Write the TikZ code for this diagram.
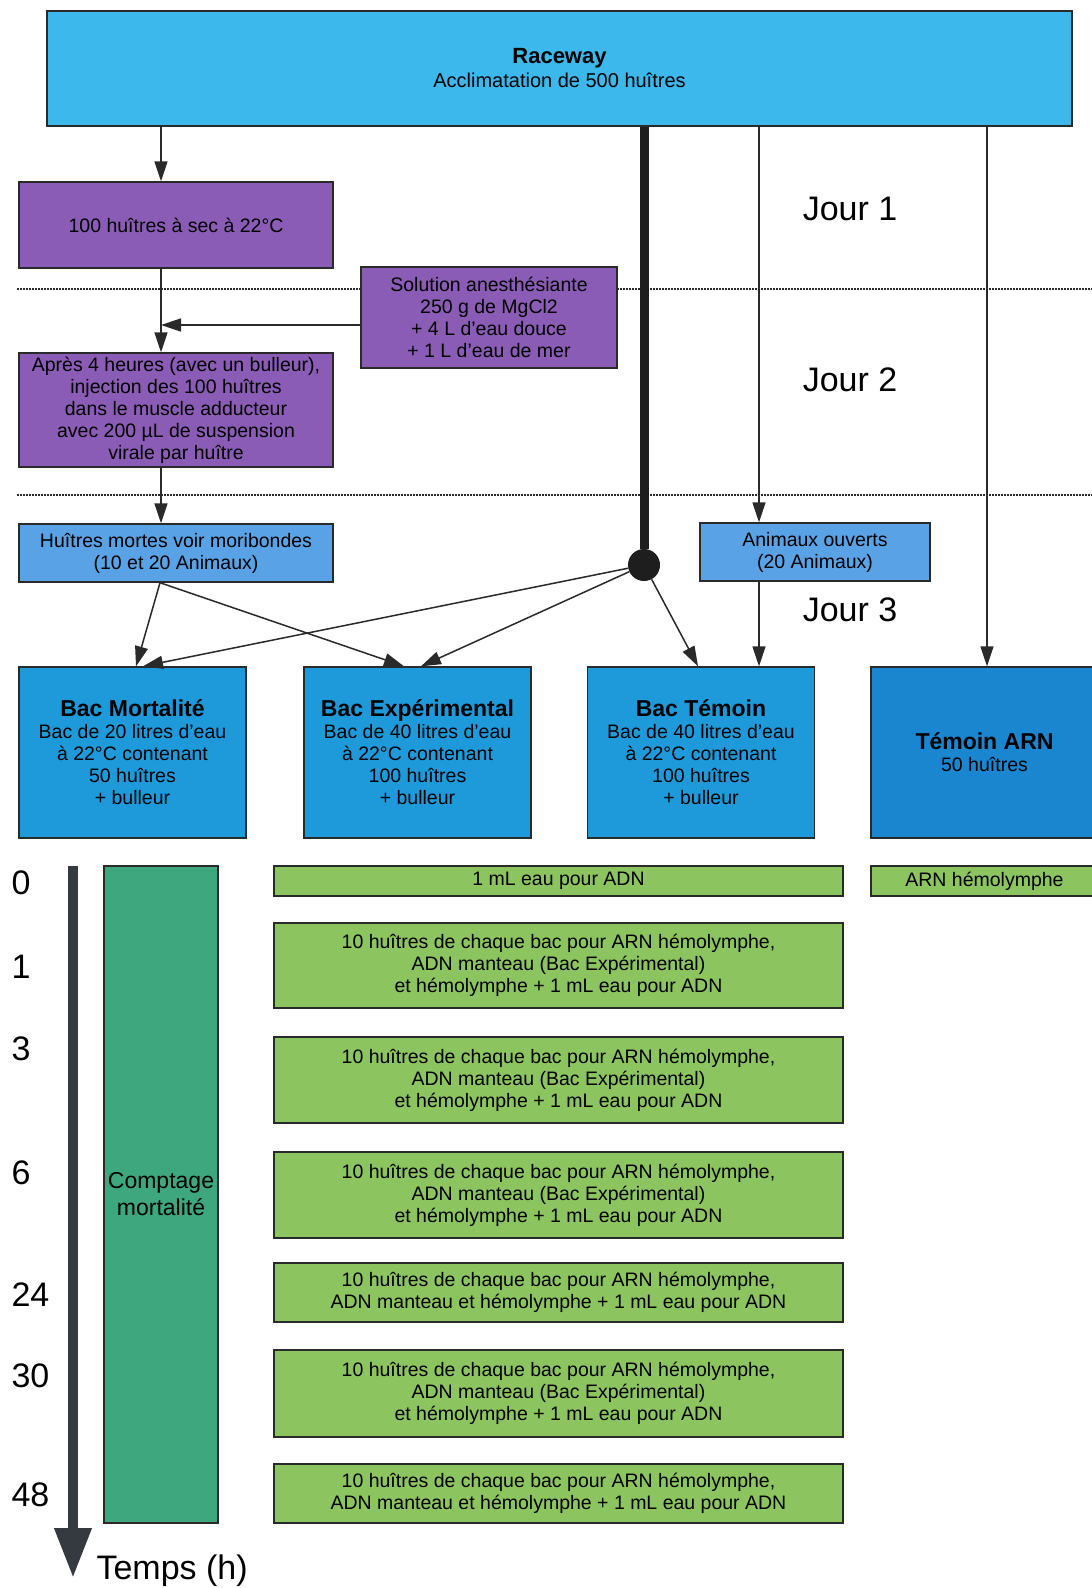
\documentclass[tikz,border=0pt]{standalone}
\usepackage{fontspec}
\setmainfont{Liberation Sans}
\usepackage{tikz}
\usetikzlibrary{arrows.meta}
\definecolor{race}{HTML}{3DB8EC}
\definecolor{purp}{HTML}{8A5CB5}
\definecolor{lightblue}{HTML}{5AA2E6}
\definecolor{bacblue}{HTML}{1E9ADB}
\definecolor{arnblue}{HTML}{1A86CF}
\definecolor{leaf}{HTML}{8CC460}
\definecolor{tealbar}{HTML}{3FA77E}
\definecolor{edge}{HTML}{2A2A2A}
\definecolor{hubdark}{HTML}{1E1E1E}
\definecolor{axisgray}{HTML}{343A3F}
\newcommand{\labtext}{\fontsize{19.5}{22}\selectfont}
\newcommand{\titletext}{\fontsize{23}{27}\selectfont\bfseries}
\newcommand{\bigtext}{\fontsize{34}{40}\selectfont}

\begin{document}
\begin{tikzpicture}[x=1pt,y=-1pt,
          every node/.style={font=\labtext,text=black},
          cell/.style={draw=edge,line width=1.4pt,align=center,inner sep=2pt},
          racebox/.style={cell,fill=race,minimum width=1025pt,minimum height=115pt},
          purplebox/.style={cell,fill=purp,minimum width=314pt},
          smallblue/.style={cell,fill=lightblue,minimum height=58pt},
          bacbox/.style={cell,fill=bacblue,minimum width=227pt,minimum height=171pt},
          greenbox/.style={cell,fill=leaf,minimum width=569pt},
          daytext/.style={font=\bigtext},
          hourtext/.style={font=\bigtext,anchor=west},
          arr/.style={-{Triangle[length=20pt,width=13pt]},line width=1.5pt,draw=edge},
          daysep/.style={draw=edge,line width=1.6pt,dash pattern=on 1.6pt off 1.4pt}
      ]
        \path[fill=white,use as bounding box] (0,0) rectangle (1092,1588);
        \clip (0,0) rectangle (1092,1588);

        % day separators
        \draw[daysep] (17,289) -- (1092,289);
        \draw[daysep] (17,495) -- (1092,495);

        % columns of the flow
        \coordinate (colA) at (161,0);
        \coordinate (colC) at (759,0);
        \coordinate (colD) at (987,0);
        \coordinate (mix) at (161,325);

        \node[racebox,font=\fontsize{20}{24}\selectfont] (race) at (559.5,68.5)
          {{\fontsize{22}{26}\selectfont\bfseries Raceway}\\
           Acclimatation de 500 huîtres};

        \node[purplebox,minimum height=86pt] (dry) at (176,225)
          {100 huîtres à sec à 22°C};
        \node[purplebox,minimum width=256pt,minimum height=101pt] (sol) at (489,317.5)
          {Solution anesthésiante\\250 g de MgCl2\\+ 4 L d'eau douce\\+ 1 L d'eau de mer};
        \node[purplebox,minimum height=114pt] (inj) at (176,410)
          {Après 4 heures (avec un bulleur),\\injection des 100 huîtres\\
           dans le muscle adducteur\\avec 200 µL de suspension\\virale par huître};

        \node[smallblue,minimum width=314pt] (dead) at (176,553)
          {Huîtres mortes voir moribondes\\(10 et 20 Animaux)};
        \node[smallblue,minimum width=230pt] (open) at (815,552)
          {Animaux ouverts\\(20 Animaux)};

        \node[circle,fill=hubdark,inner sep=0pt,minimum size=32pt] (hub) at (644,565) {};

        \node[daytext] (j1) at (850,209) {Jour 1};
        \node[daytext] (j2) at (850,380) {Jour 2};
        \node[daytext] (j3) at (850,610) {Jour 3};

        \node[bacbox] (bmort) at (132.5,752.5)
          {{\titletext Bac Mortalité}\\Bac de 20 litres d'eau\\à 22°C contenant\\50 huîtres\\+ bulleur};
        \node[bacbox] (bexp) at (417.5,752.5)
          {{\titletext Bac Expérimental}\\Bac de 40 litres d'eau\\à 22°C contenant\\100 huîtres\\+ bulleur};
        \node[bacbox] (btem) at (701,752.5)
          {{\titletext Bac Témoin}\\Bac de 40 litres d'eau\\à 22°C contenant\\100 huîtres\\+ bulleur};
        \node[bacbox,fill=arnblue] (barn) at (984.5,752.5)
          {{\titletext Témoin ARN}\\50 huîtres};

        % sampling timeline
        \node[cell,fill=tealbar,minimum width=114pt,minimum height=657pt,
              font=\fontsize{23}{27}\selectfont] (count) at (161,1194.5) {Comptage\\mortalité};

        \node[greenbox,minimum height=30pt] (h0) at (558.5,881) {1 mL eau pour ADN};
        \node[greenbox,minimum width=227pt,minimum height=30pt] (arnh) at (984.5,881) {ARN hémolymphe};
        \node[greenbox,minimum height=85pt] (h1) at (558.5,965.5)
          {10 huîtres de chaque bac pour ARN hémolymphe,\\ADN manteau (Bac Expérimental)\\
           et hémolymphe + 1 mL eau pour ADN};
        \node[greenbox,minimum height=86pt] (h3) at (558.5,1080)
          {10 huîtres de chaque bac pour ARN hémolymphe,\\ADN manteau (Bac Expérimental)\\
           et hémolymphe + 1 mL eau pour ADN};
        \node[greenbox,minimum height=86pt] (h6) at (558.5,1195)
          {10 huîtres de chaque bac pour ARN hémolymphe,\\ADN manteau (Bac Expérimental)\\
           et hémolymphe + 1 mL eau pour ADN};
        \node[greenbox,minimum height=59pt] (h24) at (558.5,1292.5)
          {10 huîtres de chaque bac pour ARN hémolymphe,\\ADN manteau et hémolymphe + 1 mL eau pour ADN};
        \node[greenbox,minimum height=87pt] (h30) at (558.5,1393.5)
          {10 huîtres de chaque bac pour ARN hémolymphe,\\ADN manteau (Bac Expérimental)\\
           et hémolymphe + 1 mL eau pour ADN};
        \node[greenbox,minimum height=59pt] (h48) at (558.5,1493.5)
          {10 huîtres de chaque bac pour ARN hémolymphe,\\ADN manteau et hémolymphe + 1 mL eau pour ADN};

        \node[hourtext] (t0) at (8,883) {0};
        \node[hourtext] (t1) at (8,967) {1};
        \node[hourtext] (t3) at (8,1049) {3};
        \node[hourtext] (t6) at (8,1173) {6};
        \node[hourtext] (t24) at (8,1295) {24};
        \node[hourtext] (t30) at (8,1376) {30};
        \node[hourtext] (t48) at (8,1495) {48};

        \coordinate (tstart) at (73,866);
        \coordinate (tend) at (73,1578);
        \draw[draw=axisgray,line width=10pt,-{Triangle[length=50pt,width=35pt]}] (tstart) -- (tend);
        \node[anchor=west,font=\bigtext] (temps) at (93,1571) {Temps (h)};

        % connectors
        \draw[line width=9pt,draw=hubdark] (race.south -| hub) -- (hub);
        \draw[arr] (race.south -| colA) -- (dry.north -| colA);
        \draw[arr] (dry.south -| colA) -- (inj.north -| colA);
        \draw[arr] (sol.west |- mix) -- (mix);
        \draw[arr] (inj.south -| colA) -- (dead.north -| colA);
        \draw[arr] (race.south -| colC) -- (open.north -| colC);
        \draw[arr] (open.south -| colC) -- (btem.north -| colC);
        \draw[arr] (race.south -| colD) -- (barn.north -| colD);
        \draw[arr] ([xshift=-16pt]dead.south) -- ([xshift=3.5pt]bmort.north);
        \draw[arr] ([xshift=-16pt]dead.south) -- ([xshift=-13.5pt]bexp.north);
        \draw[arr] (hub) -- ([xshift=10.5pt]bmort.north);
        \draw[arr] (hub) -- ([xshift=3.5pt]bexp.north);
        \draw[arr] (hub) -- ([xshift=-3pt]btem.north);
      \end{tikzpicture}
\end{document}
